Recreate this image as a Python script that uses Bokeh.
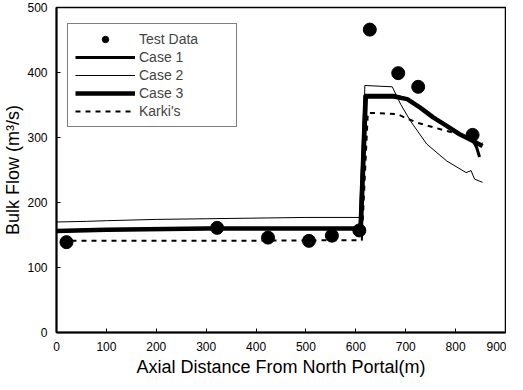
from bokeh.plotting import figure
from bokeh.models import Range1d, FixedTicker, Legend, LegendItem
from bokeh.embed import file_html
from bokeh.resources import INLINE

# Test data
test_x = [20, 322, 424, 506, 552, 607, 628, 685, 725, 834]
test_y = [139, 161, 146, 141, 149, 157, 466, 399, 378, 304]

# Case 1
c1_x = [0, 100, 300, 500, 608, 618, 676, 703, 729, 755, 782, 808, 834, 842, 848]
c1_y = [156, 158, 160, 160, 160, 365, 365, 359, 346, 331, 318, 305, 296, 285, 270]

# Case 2
c2_x = [0, 60, 100, 200, 300, 400, 500, 608, 612, 618, 673, 683, 690, 709, 742, 782, 821, 831, 838, 854]
c2_y = [170, 171, 172, 174, 175, 176, 177, 177, 177, 380, 378, 362, 351, 326, 290, 264, 246, 249, 236, 231]

# Case 3
c3_x = [0, 100, 300, 500, 610, 620, 676, 703, 729, 755, 782, 808, 834, 854]
c3_y = [156, 158, 160, 160, 160, 363, 363, 359, 346, 331, 318, 305, 295, 287]

# Karki's
k_x = [10, 300, 606, 612, 624, 683, 700, 722, 768, 808, 834, 846, 854]
k_y = [141, 141, 142, 142, 338, 336, 330, 323, 313, 305, 298, 288, 292]

x_ticks = [0, 100, 200, 300, 400, 500, 600, 700, 800, 900]
y_ticks = [0, 100, 200, 300, 400, 500]

FONT = "Liberation Sans"

p = figure(width=506, height=380, output_backend="svg", toolbar_location=None,
           x_range=Range1d(0, 900), y_range=Range1d(0, 500),
           min_border_left=52, min_border_right=1, min_border_top=7, min_border_bottom=48)

p.background_fill_color = "white"
p.border_fill_color = "white"
p.outline_line_color = "black"
p.outline_line_width = 1.5
p.grid.visible = False

for ax in (p.xaxis[0], p.yaxis[0]):
    ax.axis_line_width = 2
    ax.axis_line_color = "black"
    ax.major_tick_in = 4
    ax.major_tick_out = 0
    ax.minor_tick_line_color = None
    ax.major_label_text_font = FONT
    ax.major_label_text_font_size = "12px"
    ax.major_label_text_color = "black"
    ax.axis_label_text_font = FONT
    ax.axis_label_text_font_size = "18px"
    ax.axis_label_text_font_style = "normal"
    ax.axis_label_text_color = "black"

p.xaxis.ticker = FixedTicker(ticks=x_ticks)
p.yaxis.ticker = FixedTicker(ticks=y_ticks)
p.xaxis.axis_label = "Axial Distance From North Portal(m)"
p.yaxis.axis_label = "Bulk Flow (m³/s)"
p.xaxis.major_label_standoff = 9
p.yaxis.major_label_standoff = 9
p.xaxis.axis_label_standoff = 3
p.yaxis.axis_label_standoff = 1

r3 = p.line(c3_x, c3_y, line_color="black", line_width=4.5)
r1 = p.line(c1_x, c1_y, line_color="black", line_width=3)
r2 = p.line(c2_x, c2_y, line_color="black", line_width=1)
rk = p.line(k_x, k_y, line_color="black", line_width=2, line_dash="5 5")
rt = p.scatter(test_x, test_y, size=13, fill_color="black", line_color="black")

legend = Legend(items=[
    LegendItem(label="Test Data", renderers=[rt]),
    LegendItem(label="Case 1", renderers=[r1]),
    LegendItem(label="Case 2", renderers=[r2]),
    LegendItem(label="Case 3", renderers=[r3]),
    LegendItem(label="Karki's", renderers=[rk]),
], location=(11, 205))
legend.margin = 0
legend.padding = 7
legend.spacing = 2
legend.glyph_width = 60
legend.glyph_height = 16
legend.label_height = 16
legend.label_width = 90
legend.label_standoff = 4
legend.label_text_font = FONT
legend.label_text_font_size = "14px"
legend.border_line_color = "black"
legend.border_line_width = 1.5
legend.background_fill_alpha = 1
p.add_layout(legend, "center")

open("out.html", "w").write(file_html(p, INLINE))
